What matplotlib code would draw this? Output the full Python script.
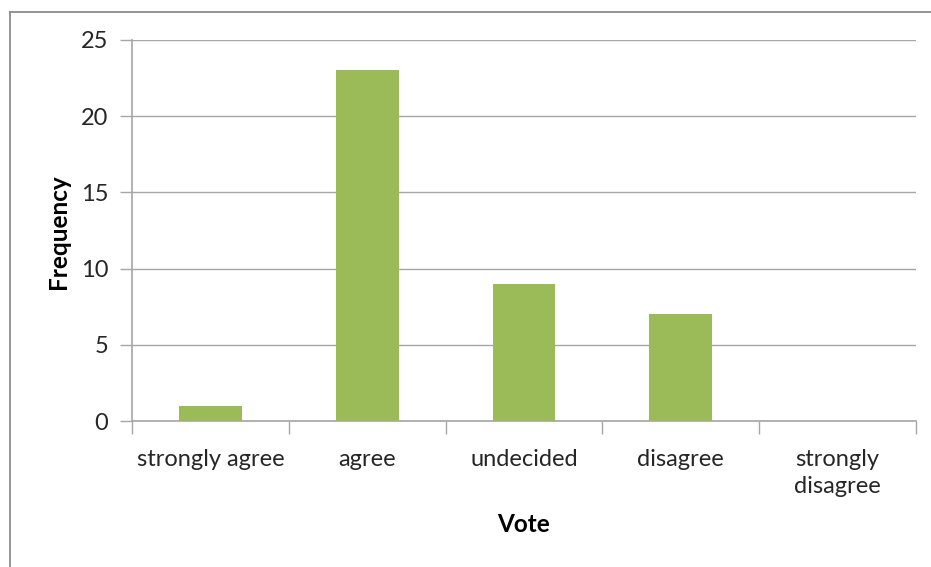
import matplotlib.pyplot as plt
from matplotlib.lines import Line2D

plt.rcParams['font.family'] = ['Lato', 'DejaVu Sans']

votes = ['strongly agree', 'agree', 'undecided', 'disagree', 'strongly\ndisagree']
freq = [1, 23, 9, 7, 0]

W, H = 931, 567
fig = plt.figure(figsize=(W / 100, H / 100), dpi=100)
ax = fig.add_axes([132 / W, 1 - 421 / H, (916 - 132) / W, (421 - 40) / H])

grid_c = '#a6a6a6'
text_c = '#262626'

x = list(range(len(votes)))
ax.bar(x, freq, width=0.4, color='#9bbb59', zorder=3)

ax.set_xlim(-0.5, len(votes) - 0.5)
ax.set_ylim(0, 25)
ax.set_yticks(range(0, 26, 5))
ax.yaxis.grid(True, color=grid_c, linewidth=1, zorder=0)

# category labels centered, ticks on the boundaries between categories
ax.set_xticks([i - 0.5 for i in range(len(votes) + 1)])
ax.set_xticklabels([])
ax.set_xticks(x, minor=True)
ax.set_xticklabels(votes, minor=True, fontsize=17, color=text_c, linespacing=1.35)
ax.tick_params(axis='x', which='minor', length=0, pad=20)
ax.tick_params(axis='x', which='major', length=9, width=1, color=grid_c)
ax.tick_params(axis='y', length=9, width=1, color=grid_c, labelsize=17,
               labelcolor=text_c, pad=8)

for s in ['top', 'right']:
    ax.spines[s].set_visible(False)
for s in ['left', 'bottom']:
    ax.spines[s].set_color(grid_c)
    ax.spines[s].set_linewidth(1.2)

fig.text(59 / W, 1 - 232 / H, 'Frequency', rotation=90, ha='center', va='center',
         fontsize=17.5, fontweight='bold', color='black')
fig.text(524 / W, 1 - 525 / H, 'Vote', ha='center', va='center',
         fontsize=17.5, fontweight='bold', color='black')

# chart border
fig.add_artist(Line2D([10 / W, 10 / W], [0, 1 - 12 / H], transform=fig.transFigure,
                      color='#8c8c8c', linewidth=1.3))
fig.add_artist(Line2D([10 / W, 1], [1 - 12 / H, 1 - 12 / H], transform=fig.transFigure,
                      color='#8c8c8c', linewidth=1.3))

fig.savefig('out.png', dpi=100)
